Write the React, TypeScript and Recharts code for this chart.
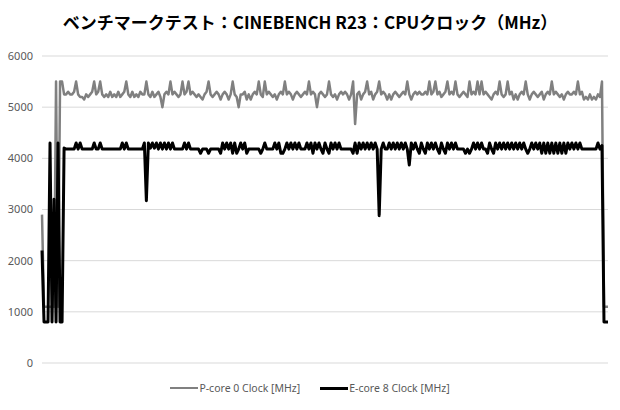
import { CartesianGrid, Line, LineChart, XAxis, YAxis } from "recharts";

const title = "ベンチマークテスト：CINEBENCH R23：CPUクロック（MHz）";

const yTicks = [0, 1000, 2000, 3000, 4000, 5000, 6000];

// P-core 0 clock, one sample per step
const pCore = [
  2900, 1100, 1100, 1100, 1100, 1100, 1100, 5500, 1100, 5500, 5500, 5250, 5250, 5300, 5250, 5250, 5300, 5500, 5250, 5200,
  5200, 5150, 5250, 5200, 5250, 5300, 5500, 5250, 5300, 5500, 5250, 5200, 5250, 5200, 5300, 5200, 5250, 5200, 5300, 5200,
  5250, 5300, 5500, 5250, 5200, 5300, 5200, 5250, 5200, 5300, 5250, 5250, 5500, 5250, 5200, 5300, 5200, 5250, 5300, 5200,
  5000, 5250, 5300, 5250, 5500, 5250, 5300, 5250, 5200, 5250, 5500, 5250, 5300, 5500, 5250, 5300, 5250, 5200, 5250, 5200,
  5150, 5250, 5300, 5500, 5250, 5200, 5250, 5300, 5250, 5150, 5250, 5300, 5250, 5150, 5250, 5500, 5250, 5200, 5000, 5250,
  5250, 5300, 5150, 5250, 5150, 5250, 5300, 5250, 5500, 5250, 5200, 5500, 5250, 5300, 5250, 5200, 5250, 5150, 5250, 5300,
  5250, 5500, 5250, 5300, 5250, 5150, 5250, 5300, 5250, 5200, 5250, 5300, 5250, 5500, 5250, 5300, 5250, 5000, 5250, 5300,
  5250, 5200, 5250, 5500, 5250, 5200, 5250, 5150, 5250, 5300, 5250, 5300, 5250, 5150, 5250, 5500, 4670, 5250, 5300, 5150,
  5250, 5300, 5500, 5250, 5300, 5150, 5250, 5300, 5500, 5250, 5300, 5250, 5150, 5250, 5150, 5250, 5300, 5250, 5200, 5250,
  5300, 5250, 5500, 5250, 5150, 5250, 5300, 5250, 5300, 5250, 5250, 5300, 5250, 5500, 5250, 5300, 5500, 5250, 5300, 5200,
  5250, 5300, 5500, 5250, 5300, 5250, 5500, 5250, 5200, 5250, 5300, 5250, 5200, 5500, 5250, 5300, 5250, 5500, 5250, 5500,
  5250, 5300, 5250, 5200, 5150, 5250, 5300, 5250, 5500, 5250, 5200, 5250, 5500, 5250, 5300, 5150, 5250, 5150, 5250, 5300,
  5250, 5500, 5250, 5150, 5250, 5300, 5250, 5200, 5250, 5300, 5150, 5250, 5300, 5250, 5500, 5250, 5300, 5250, 5200, 5250,
  5150, 5250, 5300, 5250, 5250, 5300, 5250, 5500, 5250, 5300, 5150, 5200, 5150, 5250, 5150, 5200, 5150, 5250, 5200, 5500,
  1100, 1100, 1100,
];

// E-core 8 clock
const eCore = [
  2200, 800, 800, 800, 4300, 800, 3200, 800, 4300, 800, 800, 4200, 4180, 4180, 4180, 4180, 4180, 4300, 4180, 4300,
  4180, 4180, 4180, 4180, 4180, 4180, 4300, 4180, 4180, 4300, 4180, 4180, 4180, 4180, 4180, 4180, 4180, 4180, 4180, 4180,
  4300, 4180, 4300, 4180, 4180, 4180, 4180, 4180, 4180, 4180, 4180, 4300, 3170, 4300, 4200, 4300, 4200, 4300, 4180, 4300,
  4180, 4300, 4180, 4300, 4180, 4300, 4180, 4180, 4180, 4180, 4180, 4300, 4180, 4300, 4180, 4180, 4180, 4180, 4180, 4100,
  4180, 4180, 4180, 4100, 4180, 4180, 4180, 4180, 4180, 4100, 4300, 4180, 4300, 4180, 4300, 4100, 4300, 4100, 4180, 4300,
  4180, 4300, 4100, 4180, 4180, 4180, 4180, 4180, 4180, 4100, 4180, 4300, 4180, 4180, 4180, 4180, 4300, 4180, 4300, 4100,
  4100, 4180, 4300, 4180, 4300, 4180, 4300, 4180, 4300, 4180, 4180, 4180, 4300, 4180, 4300, 4100, 4300, 4180, 4300, 4180,
  4100, 4300, 4180, 4100, 4300, 4180, 4300, 4180, 4300, 4180, 4180, 4180, 4180, 4180, 4180, 4100, 4300, 4100, 4300, 4180,
  4300, 4180, 4300, 4180, 4300, 4180, 4300, 4180, 2880, 4180, 4300, 4180, 4180, 4300, 4180, 4300, 4180, 4300, 4180, 4300,
  4180, 4300, 4180, 3870, 4300, 4180, 4300, 4180, 4100, 4300, 4180, 4100, 4300, 4180, 4300, 4180, 4300, 4180, 4100, 4300,
  4180, 4100, 4300, 4180, 4300, 4180, 4300, 4180, 4180, 4180, 4180, 4100, 4180, 4100, 4180, 4300, 4180, 4300, 4180, 4300,
  4180, 4180, 4100, 4300, 4180, 4100, 4300, 4180, 4300, 4180, 4300, 4180, 4300, 4180, 4300, 4180, 4300, 4180, 4300, 4180,
  4300, 4180, 4100, 4180, 4300, 4180, 4300, 4180, 4300, 4100, 4300, 4100, 4300, 4100, 4300, 4100, 4300, 4100, 4300, 4100,
  4300, 4100, 4300, 4180, 4300, 4180, 4300, 4180, 4300, 4180, 4180, 4180, 4180, 4180, 4180, 4180, 4180, 4300, 4180, 4250,
  800, 800, 800,
];

const series = [
  { key: "p", name: "P-core 0 Clock [MHz]", color: "#808080", width: 2.5 },
  { key: "e", name: "E-core 8 Clock [MHz]", color: "#000000", width: 3 },
];

const data = pCore.map((p, i) => ({ i, p, e: eCore[i] }));

const font = "'Noto Sans', 'DejaVu Sans', sans-serif";

export default function App() {
  return (
    <div
      style={{
        position: "absolute",
        left: 0,
        top: 0,
        width: 620,
        height: 410,
        background: "#fff",
        fontFamily: font,
      }}
    >
      <div
        style={{
          position: "absolute",
          top: 9,
          left: 0,
          width: 620,
          textAlign: "center",
          fontFamily: "'Noto Sans CJK JP', sans-serif",
          fontWeight: 700,
          fontSize: 17,
          lineHeight: "26px",
          color: "#000",
        }}
      >
        {title}
      </div>
      <LineChart
        width={620}
        height={410}
        data={data}
        margin={{ top: 56, right: 12, bottom: 47, left: 8 }}
      >
        <CartesianGrid vertical={false} stroke="#d9d9d9" />
        <XAxis dataKey="i" hide />
        <YAxis
          domain={[0, 6000]}
          ticks={yTicks}
          width={34}
          axisLine={false}
          tickLine={false}
          tickMargin={3}
          tick={{ fontSize: 11, fill: "#595959", fontFamily: font }}
        />
        {series.map((s) => (
          <Line
            key={s.key}
            dataKey={s.key}
            name={s.name}
            stroke={s.color}
            strokeWidth={s.width}
            strokeLinejoin="round"
            dot={false}
            type="linear"
            isAnimationActive={false}
          />
        ))}
      </LineChart>
      <div
        style={{
          position: "absolute",
          top: 381,
          left: 0,
          width: 620,
          display: "flex",
          justifyContent: "center",
          gap: 20,
          fontSize: 10.5,
          lineHeight: "14px",
          color: "#595959",
        }}
      >
        {series.map((s) => (
          <div key={s.key} style={{ display: "flex", alignItems: "center" }}>
            <span
              style={{
                display: "inline-block",
                width: 28,
                height: s.width,
                background: s.color,
                marginRight: 1,
              }}
            />
            <span>{s.name}</span>
          </div>
        ))}
      </div>
    </div>
  );
}
